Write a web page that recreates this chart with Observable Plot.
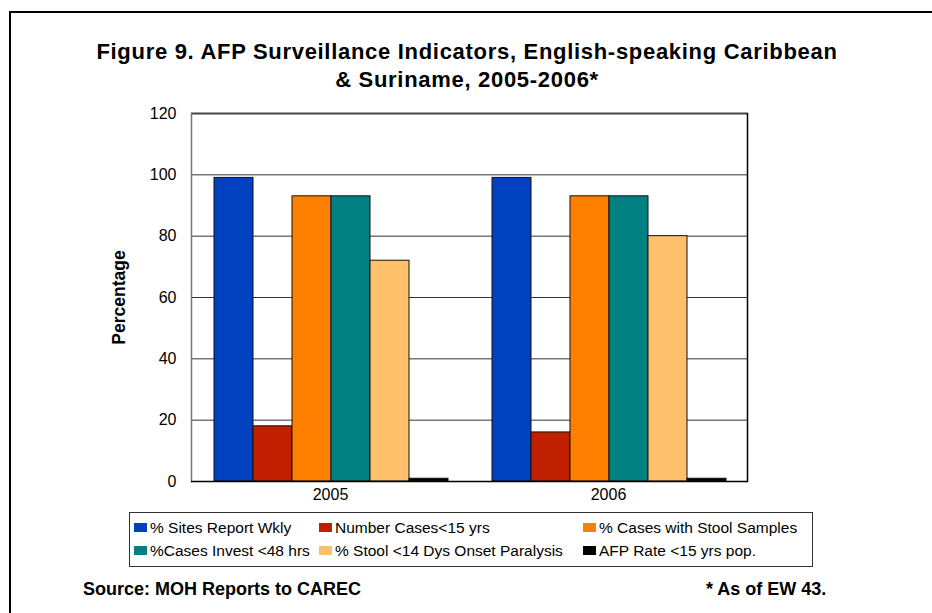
<!DOCTYPE html>
<html>
<head>
<meta charset="utf-8">
<script src="https://cdn.jsdelivr.net/npm/d3@7"></script>
<script src="https://cdn.jsdelivr.net/npm/@observablehq/plot@0.6"></script>
<style>
  html, body { margin: 0; padding: 0; background: #fff; }
  body { font-family: "Liberation Sans", Arial, sans-serif; }
  #page { position: relative; width: 932px; height: 613px; overflow: hidden; background: #fff; }
  #border { position: absolute; left: 9px; top: 11px; width: 1000px; height: 700px; border: 2px solid #000; }
  #title { position: absolute; left: 0; top: 38px; width: 934px; text-align: center; font-weight: bold; font-size: 22px; letter-spacing: 0.7px; line-height: 28px; color: #000; }
  #chart { position: absolute; left: 0; top: 100px; }
  #legend { position: absolute; left: 129px; top: 512px; width: 684px; height: 55px; border: 1px solid #333; box-sizing: border-box; }
  .item { position: absolute; font-size: 15.5px; line-height: 18px; white-space: nowrap; color: #000; }
  .sw { display: inline-block; width: 13px; height: 9px; margin-right: 3px; vertical-align: 1px; }
  .foot { position: absolute; top: 578px; font-weight: bold; font-size: 18px; line-height: 22px; color: #000; }
  #chart [aria-label="y-axis label"] text { font-weight: bold; font-size: 17.5px; }
</style>
</head>
<body>
<div id="page">
  <div id="border"></div>
  <div id="title"></div>
  <div id="chart"></div>
  <div id="legend"></div>
  <div class="foot" id="src" style="left:83px"></div>
  <div class="foot" id="note" style="left:706px"></div>
</div>
<script>
const titleLines = ["Figure 9. AFP Surveillance Indicators, English-speaking Caribbean", "& Suriname, 2005-2006*"];
const years = ["2005", "2006"];
const series = [
  "% Sites Report Wkly",
  "Number Cases<15 yrs",
  "% Cases with Stool Samples",
  "%Cases Invest <48 hrs",
  "% Stool <14 Dys Onset Paralysis",
  "AFP Rate <15 yrs pop."
];
const colors = ["#0041C0", "#C02000", "#FF8000", "#008080", "#FFC06C", "#000000"];
const values2005 = [99, 18, 93, 93, 72, 0.9];
const values2006 = [99, 16, 93, 93, 80, 0.9];
const yTicks = [0, 20, 40, 60, 80, 100, 120];
const gridValues = [20, 40, 60, 80, 100];
const yLabel = "Percentage";
const sourceText = "Source: MOH Reports to CAREC";
const noteText = "* As of EW 43.";

document.getElementById("title").innerHTML = titleLines.join("<br>");
document.getElementById("src").textContent = sourceText;
document.getElementById("note").textContent = noteText;

const valuesByYear = {"2005": values2005, "2006": values2006};
const data = [];
for (const yr of years) {
  series.forEach((s, i) => data.push({year: yr, series: s, value: valuesByYear[yr][i]}));
}

const chart = Plot.plot({
  width: 932,
  height: 410,
  marginTop: 13,
  marginBottom: 29,
  marginLeft: 191,
  marginRight: 185,
  style: {fontFamily: "'Liberation Sans', Arial, sans-serif", fontSize: "16px", color: "#000", background: "transparent", overflow: "visible"},
  fx: {domain: years, padding: 0, label: null, tickSize: 0, tickPadding: 7, axis: "bottom"},
  x: {domain: series, axis: null, padding: 0, insetLeft: 21, insetRight: 20},
  y: {domain: [0, 120], ticks: yTicks, tickSize: 0, tickPadding: 15, label: yLabel, labelArrow: false, labelAnchor: "center", labelOffset: 79},
  color: {domain: series, range: colors},
  marks: [
    Plot.ruleY(gridValues, {stroke: "#333", strokeWidth: 1}),
    Plot.ruleY([120], {stroke: "#444", strokeWidth: 2}),
    Plot.frame({anchor: "left", fx: "2005", stroke: "#777", strokeWidth: 1.5}),
    Plot.frame({anchor: "right", fx: "2006", stroke: "#000", strokeWidth: 1.5}),
    Plot.barY(data, {fx: "year", x: "series", y: "value", fill: "series", stroke: "#111", strokeWidth: 1, inset: 0}),
    Plot.ruleY([0], {stroke: "#000", strokeWidth: 1.5})
  ]
});
document.getElementById("chart").appendChild(chart);

// legend
const legend = document.getElementById("legend");
const colX = [134, 319, 583];
const rowY = [519, 542];
series.forEach((s, i) => {
  const col = i % 3, row = Math.floor(i / 3);
  const el = document.createElement("div");
  el.className = "item";
  el.style.left = (colX[col] - 129 - 1) + "px";
  el.style.top = (rowY[row] - 512 - 1) + "px";
  const sw = document.createElement("span");
  sw.className = "sw";
  sw.style.background = colors[i];
  el.appendChild(sw);
  el.appendChild(document.createTextNode(s));
  legend.appendChild(el);
});
</script>
</body>
</html>
